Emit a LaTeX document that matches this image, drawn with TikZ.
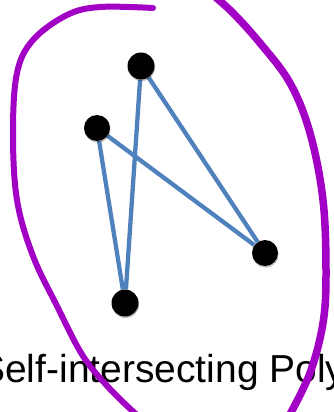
\documentclass[tikz,border=0pt]{standalone}
\usepackage{fontspec}
\setmainfont{Liberation Sans}
\usetikzlibrary{backgrounds, shadows}
\definecolor{polyblue}{HTML}{4F81BD}
\definecolor{penpurple}{HTML}{A200C4}
\tikzset{
  vertex/.style    = {circle, fill=black, minimum size=27pt, inner sep=0pt,
                      drop shadow={shadow xshift=0.6pt, shadow yshift=-1.6pt,
                                   opacity=0.25, fill=black}},
  polyedge/.style  = {draw=polyblue, line width=4.3pt},
  penstroke/.style = {draw=penpurple, line width=6pt, line cap=round},
  caption/.style   = {font=\fontsize{39}{46}\selectfont, anchor=base west,
                      inner sep=0pt},
}
\begin{document}
\begin{tikzpicture}[x=1pt, y=-1pt]
    \path[use as bounding box, clip] (0,0) rectangle (333,412);
    % vertices
    \node[vertex]                 (top)    at (141,66)  {};
    \node[vertex, minimum size=26pt] (left)   at (97,128)  {};
    \node[vertex, minimum size=26pt] (right)  at (265,253) {};
    \node[vertex]                 (bottom) at (125,303) {};

    % edges of the polygon (under the vertices)
    \begin{scope}[on background layer]
      \draw[polyedge] (top) -- (right);
      \draw[polyedge] (right) -- (left);
      \draw[polyedge] (left) -- (bottom);
      \draw[polyedge] (bottom) -- (top);
    \end{scope}

    % caption
    \node[caption] (cap) at (-21,382) {Self-intersecting Polygon};

    % hand-drawn mark
    \draw[penstroke] plot[smooth, tension=0.6] coordinates {
      (153,8) (100,7) (67,15) (33,40) (17,73) (13,133) (17,200)
      (33,256) (57,306) (83,356) (110,389) (138,416)};
    \draw[penstroke, line width=7.5pt] plot[smooth, tension=0.6] coordinates {
      (214,-4) (233,13) (260,43) (290,83) (310,133) (323,200)
      (326,273) (323,323) (310,373) (289,416)};
\end{tikzpicture}
\end{document}
